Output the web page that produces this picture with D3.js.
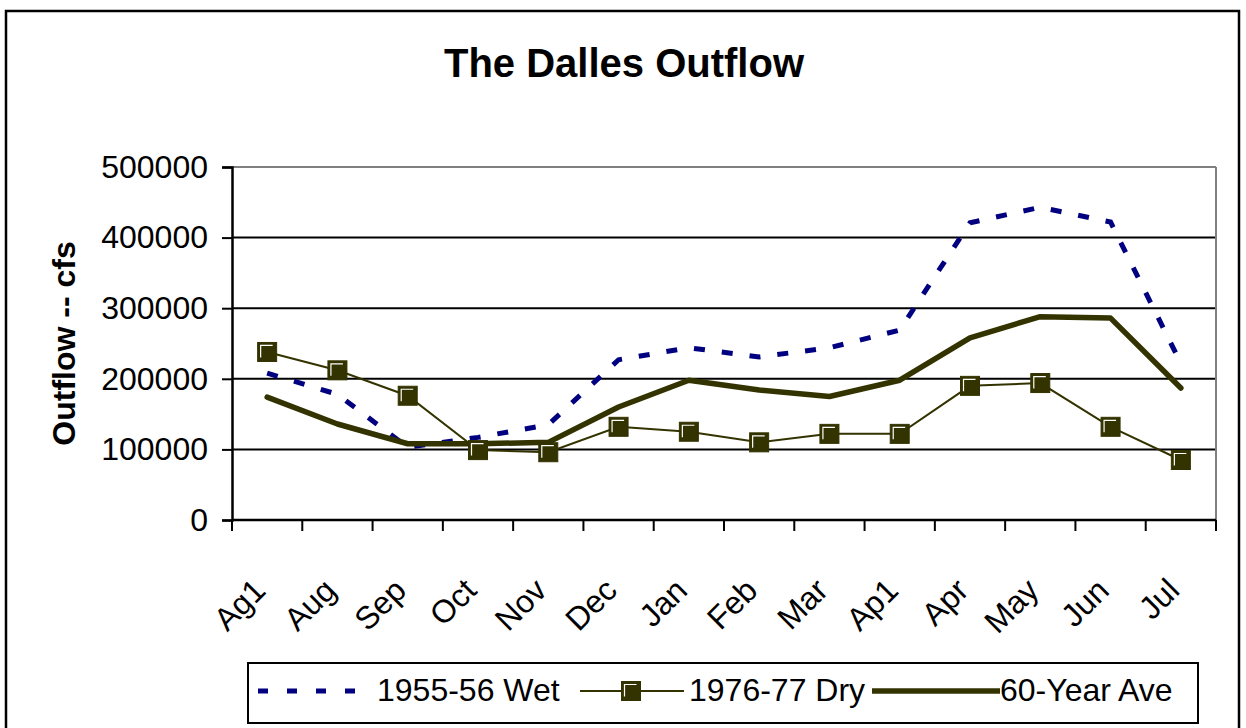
<!DOCTYPE html>
<html>
<head>
<meta charset="utf-8">
<script src="https://cdn.jsdelivr.net/npm/d3@7"></script>
<style>
  html, body { margin: 0; padding: 0; background: #fff; }
  svg { display: block; }
  text { font-family: "Liberation Sans", Arial, sans-serif; fill: #000; }
</style>
</head>
<body>
<svg id="chart" width="1246" height="728"></svg>
<script>
// ---- data ----
const categories = ["Ag1","Aug","Sep","Oct","Nov","Dec","Jan","Feb","Mar","Ap1","Apr","May","Jun","Jul"];
const wet = [208000,178000,103000,117000,135000,227000,244000,231000,244000,269000,421000,443000,422000,222000];
const dry = [238000,212000,176000,99000,96000,132000,125000,110000,122000,122000,190000,194000,132000,85000];
const ave = [174000,136000,108000,108000,110000,160000,198000,184000,175000,198000,258000,288000,286000,187000];
const yTicks = [0,100000,200000,300000,400000,500000];
const seriesNames = ["1955-56 Wet","1976-77 Dry","60-Year Ave"];
const titleText = "The Dalles Outflow";
const yTitle = "Outflow -- cfs";

const NAVY = "#000080", OLIVE = "#333300";
const svg = d3.select("#chart");
const L = 232, R = 1216, T = 167, B = 520;

// outer border
svg.append("rect").attr("x",6).attr("y",11).attr("width",1233).attr("height",740)
  .attr("fill","none").attr("stroke","#000").attr("stroke-width",2.5);

const x = d3.scaleBand().domain(categories).range([L,R]).padding(0);
const cx = c => x(c) + x.bandwidth()/2;
const y = d3.scaleLinear().domain([0,500000]).range([B,T]);

// gridlines
svg.append("g").selectAll("line").data(yTicks.filter(d=>d>0 && d<500000)).join("line")
  .attr("x1",L).attr("x2",R).attr("y1",d=>y(d)).attr("y2",d=>y(d))
  .attr("stroke","#000").attr("stroke-width",2);
// plot area top / right border (gray)
svg.append("line").attr("x1",L).attr("x2",R).attr("y1",y(500000)).attr("y2",y(500000))
  .attr("stroke","#808080").attr("stroke-width",2);
svg.append("line").attr("x1",R).attr("x2",R).attr("y1",T).attr("y2",B)
  .attr("stroke","#808080").attr("stroke-width",2);

// y axis
const yAxis = svg.append("g").attr("transform",`translate(${L},0)`)
  .call(d3.axisLeft(y).tickValues(yTicks).tickFormat(d3.format("d")).tickSize(10).tickPadding(14));
yAxis.select(".domain").attr("stroke","#000").attr("stroke-width",2.5);
yAxis.selectAll(".tick line").attr("stroke","#000").attr("stroke-width",2);
yAxis.selectAll(".tick text").style("font-size","32px").style("font-family","Liberation Sans, Arial, sans-serif").attr("fill","#000");

// x axis line and ticks at band edges
svg.append("line").attr("x1",L).attr("x2",R).attr("y1",B).attr("y2",B)
  .attr("stroke","#000").attr("stroke-width",2.5);
const edges = categories.map(c => x(c)).concat([R]);
svg.append("g").selectAll("line").data(edges).join("line")
  .attr("x1",d=>d).attr("x2",d=>d).attr("y1",B).attr("y2",B+11)
  .attr("stroke","#000").attr("stroke-width",2);

// x labels rotated
svg.append("g").selectAll("text").data(categories).join("text")
  .attr("transform",c=>`translate(${cx(c)-16},${576}) rotate(-45)`)
  .attr("text-anchor","end").attr("dy","0.72em")
  .style("font-size","32px").text(c=>c);

// title
svg.append("text").attr("x",624).attr("y",77).attr("text-anchor","middle")
  .style("font-size","40px").style("font-weight","bold").text(titleText);
// y title
svg.append("text").attr("transform",`translate(75,${(T+B)/2}) rotate(-90)`)
  .attr("text-anchor","middle").style("font-size","32px").style("font-weight","bold").text(yTitle);

const line = d3.line().x((d,i)=>cx(categories[i])).y(d=>y(d));

// wet dashed
svg.append("path").datum(wet).attr("d",line).attr("fill","none")
  .attr("stroke",NAVY).attr("stroke-width",5).attr("stroke-dasharray","11,17");
// average thick
svg.append("path").datum(ave).attr("d",line).attr("fill","none")
  .attr("stroke",OLIVE).attr("stroke-width",5.5).attr("stroke-linejoin","round").attr("stroke-linecap","round");
// dry thin
svg.append("path").datum(dry).attr("d",line).attr("fill","none")
  .attr("stroke",OLIVE).attr("stroke-width",2);

function marker(g, px, py){
  const s = 19;
  g.append("rect").attr("x",px-s/2).attr("y",py-s/2).attr("width",s).attr("height",s)
    .attr("fill",OLIVE).attr("stroke",OLIVE).attr("stroke-width",1);
  g.append("path").attr("d",`M${px-s/2+3},${py+s/2-4} L${px-s/2+3},${py-s/2+3} L${px+s/2-4},${py-s/2+3}`)
    .attr("fill","none").attr("stroke","#fff").attr("stroke-width",1.2);
}
const mg = svg.append("g");
dry.forEach((d,i)=>marker(mg, cx(categories[i]), y(d)));

// legend
const lg = svg.append("g");
lg.append("rect").attr("x",248).attr("y",663).attr("width",950).attr("height",60)
  .attr("fill","#fff").attr("stroke","#000").attr("stroke-width",2);
const ly = 691;
lg.append("line").attr("x1",258).attr("x2",366).attr("y1",ly).attr("y2",ly)
  .attr("stroke",NAVY).attr("stroke-width",5).attr("stroke-dasharray","10,19");
lg.append("text").attr("x",377).attr("y",701).style("font-size","32px").text(seriesNames[0]);
lg.append("line").attr("x1",580).attr("x2",684).attr("y1",ly).attr("y2",ly)
  .attr("stroke",OLIVE).attr("stroke-width",2);
marker(lg, 631, ly);
lg.append("text").attr("x",689).attr("y",701).style("font-size","32px").text(seriesNames[1]);
lg.append("line").attr("x1",872).attr("x2",1000).attr("y1",ly).attr("y2",ly)
  .attr("stroke",OLIVE).attr("stroke-width",5.5);
lg.append("text").attr("x",1000).attr("y",701).style("font-size","32px").text(seriesNames[2]);
</script>
</body>
</html>
